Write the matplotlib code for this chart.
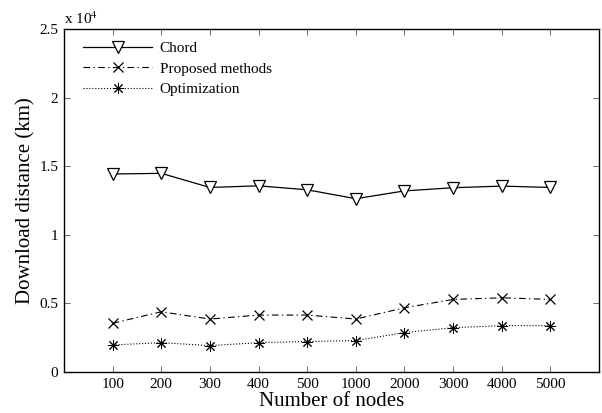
import matplotlib
matplotlib.use("Agg")
import matplotlib.pyplot as plt
from matplotlib.ticker import FuncFormatter

categories = ["100", "200", "300", "400", "500", "1000", "2000", "3000", "4000", "5000"]
chord = [14430, 14480, 13450, 13570, 13280, 12630, 13200, 13430, 13550, 13450]
proposed = [3550, 4390, 3860, 4150, 4150, 3860, 4680, 5290, 5410, 5290]
optimization = [1970, 2140, 1920, 2140, 2220, 2290, 2870, 3230, 3380, 3380]
yticks = [0, 5000, 10000, 15000, 20000, 25000]

plt.rcParams['font.family'] = ['Liberation Serif', 'DejaVu Serif']
plt.rcParams['mathtext.fontset'] = 'stix'

fig = plt.figure(figsize=(6.02, 4.13), dpi=100)
ax = fig.add_axes([64/602, 1 - 372/413, (599-64)/602, (372-29)/413])

x = list(range(1, len(categories) + 1))
ax.plot(x, chord, '-', color='black', lw=0.9, marker='v', ms=8.5,
        mfc='white', mec='black', mew=0.9, label='Chord')
ax.plot(x, proposed, '-.', color='black', lw=0.8, marker='x', ms=6.5,
        mew=0.9, label='Proposed methods', dashes=(6, 3, 1.2, 3))
ax.plot(x, optimization, ':', color='black', lw=0.8, marker=(8, 2, 0), ms=8,
        mew=0.7, label='Optimization')

ax.set_xlim(0, 11)
ax.set_ylim(0, 25000)
ax.set_xticks(x)
ax.set_xticklabels(categories)
ax.set_yticks(yticks)
ax.yaxis.set_major_formatter(FuncFormatter(lambda v, p: '%g' % (v / 1e4)))
ax.tick_params(direction='in', top=True, right=True, length=4, width=0.6,
               labelsize=11, color='#555555', pad=4)
for s in ax.spines.values():
    s.set_linewidth(1.0)

ax.set_xlabel('Number of nodes', fontsize=15, labelpad=1)
ax.set_ylabel('Download distance (km)', fontsize=15, labelpad=3)
ax.text(0.0, 1.005, r'x 10$^{4}$', transform=ax.transAxes, ha='left', va='bottom', fontsize=11)

leg = ax.legend(loc='upper left', frameon=False, fontsize=11, handlelength=4.5,
                borderaxespad=0.0, labelspacing=0.45, handletextpad=0.5,
                bbox_to_anchor=(0.025, 0.982))

fig.savefig('out.png', dpi=100)
